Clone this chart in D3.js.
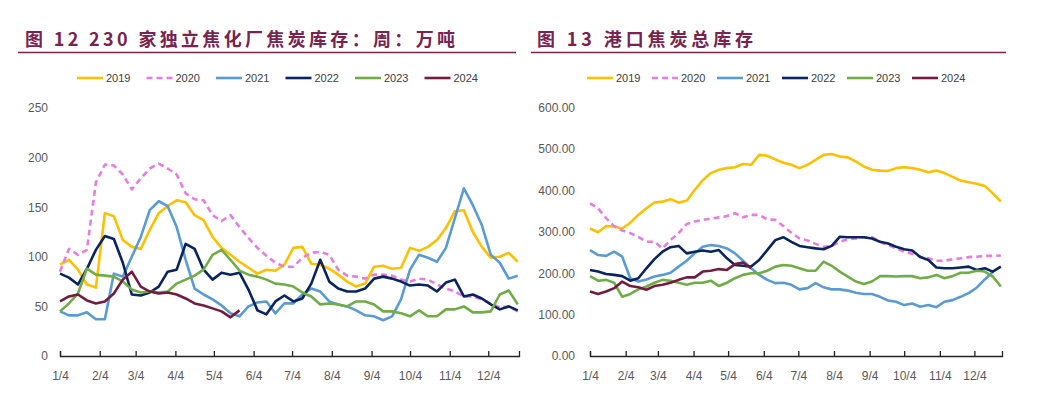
<!DOCTYPE html>
<html>
<head>
<meta charset="utf-8">
<script src="https://cdn.jsdelivr.net/npm/d3@7"></script>
<style>
  body { margin: 0; background: #fff; }
  svg { display: block; }
  .tick-label { font-family: "Liberation Sans", Arial, sans-serif; font-size: 12px; fill: #595959; }
  .legend-label { font-family: "Liberation Sans", Arial, sans-serif; font-size: 11px; fill: #404040; }
  .title { font-family: "Noto Sans CJK SC", sans-serif; font-weight: 700; font-size: 18px; fill: #79234f; }
</style>
</head>
<body>
<div id="chart"></div>
<script>
// Series names and colours
const years = ['2019', '2020', '2021', '2022', '2023', '2024'];
const colors = ['#ffc000', '#e87de0', '#5b9bd5', '#0a2461', '#70ad47', '#741c40'];

// Month ticks
const monthTicks = ['1/4', '2/4', '3/4', '4/4', '5/4', '6/4', '7/4', '8/4', '9/4', '10/4', '11/4', '12/4'];

// Fig 12: 230 independent coking plants, coke inventory (10k t), weekly
const coking2019 = [92, 97, 87, 72, 69, 144, 141, 117, 110, 108, 127, 144, 151, 157, 155, 142, 137, 120, 109, 102, 95, 89, 83, 87, 86, 92, 109, 110, 93, 92, 88, 82, 75, 70, 73, 90, 91, 88, 89, 109, 106, 110, 117, 129, 146, 147, 125, 110, 99, 100, 104, 95];
const coking2020 = [85, 108, 102, 107, 175, 193, 192, 183, 168, 179, 189, 194, 189, 183, 164, 158, 157, 142, 136, 142, 130, 119, 109, 101, 94, 90, 90, 99, 104, 105, 102, 87, 81, 80, 78, 82, 82, 81, 77, 75, 78, 77, 72, 68, 65, 60, 60, 57, 53, 49, 50, 45];
const coking2021 = [45, 41, 41, 44, 37, 37, 83, 80, 100, 120, 147, 156, 151, 130, 97, 68, 62, 57, 51, 43, 40, 50, 54, 55, 43, 53, 53, 62, 68, 65, 55, 52, 50, 46, 41, 40, 36, 40, 57, 87, 102, 99, 95, 109, 139, 169, 152, 132, 102, 94, 78, 81];
const coking2022 = [83, 79, 72, 88, 107, 121, 118, 94, 62, 61, 64, 70, 85, 87, 113, 108, 87, 77, 84, 82, 84, 67, 46, 42, 55, 61, 55, 58, 73, 97, 75, 68, 65, 65, 68, 78, 80, 78, 75, 71, 72, 71, 65, 74, 77, 60, 62, 58, 52, 47, 50, 46];
const coking2023 = [45, 53, 63, 88, 82, 81, 80, 75, 67, 64, 65, 64, 65, 73, 77, 81, 87, 102, 107, 97, 86, 82, 80, 77, 73, 72, 70, 64, 60, 52, 53, 52, 50, 55, 55, 52, 45, 45, 43, 40, 46, 40, 40, 47, 47, 50, 44, 44, 45, 62, 66, 52];
const coking2024 = [55, 60, 62, 56, 53, 55, 63, 77, 85, 70, 65, 63, 64, 62, 58, 53, 51, 48, 45, 39, 46];

// Fig 13: port coke total inventory (10k t), weekly
const port2019 = [308, 299, 314, 313, 308, 322, 341, 357, 371, 373, 379, 371, 375, 401, 425, 442, 450, 454, 456, 464, 462, 486, 484, 475, 467, 462, 454, 462, 474, 486, 488, 482, 480, 470, 458, 450, 448, 447, 454, 456, 454, 450, 444, 448, 442, 433, 424, 420, 416, 411, 393, 373];
const port2020 = [369, 357, 333, 314, 303, 297, 288, 276, 276, 260, 280, 297, 319, 325, 329, 332, 335, 338, 345, 335, 341, 341, 330, 329, 314, 298, 284, 279, 271, 264, 266, 276, 282, 284, 287, 287, 276, 268, 260, 252, 247, 240, 236, 230, 230, 234, 236, 239, 240, 242, 242, 243];
const port2021 = [256, 244, 242, 252, 240, 188, 180, 185, 192, 196, 201, 216, 230, 248, 264, 268, 266, 260, 248, 230, 212, 196, 184, 176, 177, 172, 161, 164, 176, 166, 161, 161, 158, 153, 150, 150, 143, 134, 131, 123, 127, 119, 123, 118, 131, 135, 143, 152, 165, 185, 203];
const port2022 = [208, 204, 198, 196, 193, 182, 188, 212, 234, 252, 263, 266, 248, 252, 255, 252, 256, 236, 220, 218, 216, 232, 256, 280, 287, 276, 266, 263, 260, 258, 266, 288, 287, 287, 287, 284, 276, 272, 264, 258, 255, 239, 232, 214, 212, 212, 214, 216, 208, 212, 204, 216];
const port2023 = [193, 182, 184, 177, 143, 150, 161, 168, 177, 184, 182, 177, 172, 177, 177, 182, 169, 177, 188, 196, 200, 200, 206, 216, 220, 218, 212, 206, 206, 228, 218, 204, 192, 180, 174, 180, 193, 193, 192, 193, 193, 188, 190, 196, 188, 193, 201, 201, 206, 204, 192, 168];
const port2024 = [156, 150, 156, 164, 180, 169, 166, 160, 169, 172, 177, 184, 190, 190, 204, 206, 210, 208, 222, 226, 212];

const cokingSeries = [coking2019, coking2020, coking2021, coking2022, coking2023, coking2024];
const portSeries = [port2019, port2020, port2021, port2022, port2023, port2024];

const W = 1040, H = 395;
const svg = d3.select('#chart').append('svg').attr('width', W).attr('height', H);

const weekDate = i => new Date(2019, 0, 4 + 7 * i);
const tickDates = monthTicks.map(t => new Date(2019, +t.split('/')[0] - 1, 4));

function drawPanel(opt) {
    const g = svg.append('g');

    // Titulo + linea
    g.append('text')
        .attr('class', 'title')
        .attr('x', opt.titleX)
        .attr('y', 38)
        .attr('dominant-baseline', 'central')
        .attr('textLength', opt.titleW)
        .attr('lengthAdjust', 'spacing')
        .text(opt.title);

    g.append('line')
        .attr('x1', opt.ruleX[0]).attr('x2', opt.ruleX[1])
        .attr('y1', 52.5).attr('y2', 52.5)
        .attr('stroke', '#79234f')
        .attr('stroke-width', 1.5);

    const x = d3.scaleTime()
        .domain([new Date(2019, 0, 4), new Date(2019, 11, 28)])
        .range(opt.xRange);

    const y = d3.scaleLinear()
        .domain([0, opt.yMax])
        .range([356, opt.yTop]);

    // Eje Y (solo etiquetas)
    g.selectAll('.ylab')
        .data(opt.yTicks)
        .enter()
        .append('text')
        .attr('class', 'tick-label')
        .attr('x', opt.yLabelX)
        .attr('y', d => y(d))
        .attr('dy', '0.36em')
        .attr('text-anchor', 'end')
        .text(opt.yFormat);

    // Eje X
    const xAxis = d3.axisBottom(x)
        .tickValues(tickDates)
        .tickFormat((d, i) => monthTicks[i])
        .tickSizeInner(-5)
        .tickSizeOuter(-5)
        .tickPadding(15);

    const ax = g.append('g')
        .attr('transform', 'translate(0,356)')
        .call(xAxis);
    ax.select('.domain').attr('stroke', '#222').attr('stroke-width', 1.3);
    ax.selectAll('.tick line').attr('stroke', '#222').attr('stroke-width', 1.3);
    ax.selectAll('.tick text')
        .attr('class', 'tick-label')
        .attr('font-family', null)
        .attr('font-size', null)
        .attr('fill', null);

    // Lineas
    const line = d3.line()
        .x((d, i) => x(weekDate(i)))
        .y(d => y(d));

    opt.series.forEach((s, k) => {
        g.append('path')
            .datum(s)
            .attr('fill', 'none')
            .attr('stroke', colors[k])
            .attr('stroke-width', 2.6)
            .attr('stroke-linejoin', 'round')
            .attr('stroke-dasharray', k === 1 ? '6,4' : null)
            .attr('d', line);
    });

    // Leyenda
    const leg = g.selectAll('.leg')
        .data(years)
        .enter()
        .append('g')
        .attr('transform', (d, i) => 'translate(' + (opt.legX + i * opt.legStep) + ',78)');

    leg.append('line')
        .attr('x1', 0).attr('x2', 26)
        .attr('y1', 0).attr('y2', 0)
        .attr('stroke', (d, i) => colors[i])
        .attr('stroke-width', 2.6)
        .attr('stroke-dasharray', (d, i) => i === 1 ? '6,4' : null);

    leg.append('text')
        .attr('class', 'legend-label')
        .attr('x', 29)
        .attr('y', 0)
        .attr('dy', '0.36em')
        .text(d => d);
}

drawPanel({
    title: '图 12 230 家独立焦化厂焦炭库存：周：万吨',
    titleX: 25, titleW: 430, ruleX: [18, 516],
    xRange: [60, 519], yMax: 250, yTop: 108,
    yTicks: [0, 50, 100, 150, 200, 250], yFormat: d => d, yLabelX: 48,
    series: cokingSeries, legX: 77, legStep: 69.5
});

drawPanel({
    title: '图 13 港口焦炭总库存',
    titleX: 537, titleW: 216, ruleX: [531, 1006],
    xRange: [590, 1002], yMax: 600, yTop: 107.7,
    yTicks: [0, 100, 200, 300, 400, 500, 600], yFormat: d3.format('.2f'), yLabelX: 575,
    series: portSeries, legX: 587, legStep: 65
});
</script>
</body>
</html>
